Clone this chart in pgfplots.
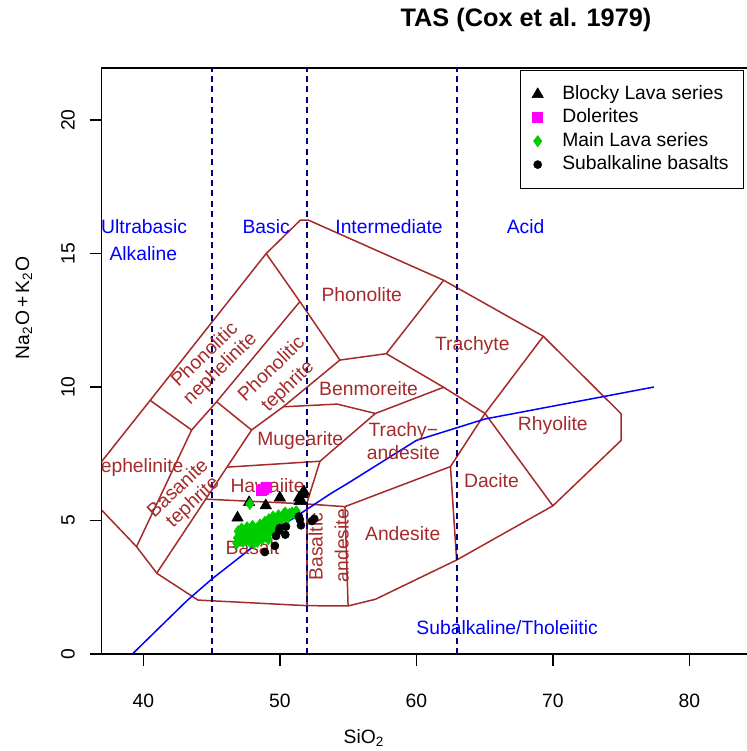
\documentclass[border=0pt]{standalone}
\usepackage{pgfplots}
\pgfplotsset{compat=1.18}
\usepackage{fontspec}
\usepackage{graphicx}
\setmainfont{Liberation Sans}
\definecolor{fieldbrown}{HTML}{A52A2A}
\definecolor{divnavy}{HTML}{000080}
\definecolor{lavagreen}{HTML}{00CD00}
\definecolor{doleritemag}{HTML}{FF00FF}
\newcommand{\lbl}{\fontsize{9.65pt}{11.6pt}\selectfont}
\begin{document}
\begin{tikzpicture}[x=1pt,y=1pt]
\useasboundingbox (-50.85,-48.5) rectangle (322.65,327);
\begin{axis}[
  at={(0pt,0pt)}, anchor=south west, scale only axis,
  width=327.95pt, height=293pt,
  xmin=36.95, xmax=85, ymin=0, ymax=21.95,
  xtick={40,50,60,70,80}, ytick={0,5,10,15,20},
  tick pos=left, tick align=outside, major tick length=6pt,
  tick style={black, line width=0.7pt},
  axis line style={black, line width=0.8pt},
  /pgf/number format/assume math mode=true,
  tick label style={font=\lbl},
  xticklabel style={anchor=north, inner sep=0pt},
  yticklabel={\rotatebox{90}{\pgfmathprintnumber{\tick}}},
  yticklabel style={anchor=east, inner sep=0pt},
  xticklabel shift=14pt,
  yticklabel shift=7.3pt,
  legend style={at={(0.9793,0.9966)}, anchor=north east, draw=black, line width=0.6pt,
    fill=white, font=\lbl, inner xsep=2.5pt, inner ysep=7.4pt, row sep=2.7pt, column sep=6pt,
    nodes={inner sep=0pt, text height=7pt, text depth=2pt, anchor=west}},
  legend cell align=left,
  legend image code/.code={\path (0pt,0pt) (12pt,0pt); \draw[#1] plot coordinates {(6pt,0pt)};},
]
% field boundaries (Cox et al. 1979)
\pgfplotsset{every axis plot/.append style={line join=round}}
\addplot[fieldbrown, line width=0.75pt, forget plot] coordinates {
  (36,6.6) (40.5,9.5) (49,15) (51.5,16.25) (52.1,16.25) (62,14.0) (69.3,11.9)
  (75,9.0) (75,8.0) (70,5.55) (62.95,3.52) (57,2.05) (55,1.8) (52,1.81)
  (44,2.02) (41,3.02) (39.5,4.02) (36,5.9)};
\addplot[fieldbrown, line width=0.75pt, forget plot] coordinates {(49,15) (51.47,13.2) (54.4,11.01) (57.8,11.25) (62,14.0)};
\addplot[fieldbrown, line width=0.75pt, forget plot] coordinates {(57.8,11.25) (62,9.99) (65.03,9.01)};
\addplot[fieldbrown, line width=0.75pt, forget plot] coordinates {(50.25,9.26) (54.2,9.36) (57,9.01) (62,9.99)};
\addplot[fieldbrown, line width=0.75pt, forget plot] coordinates {(54.4,11.01) (50.25,9.26) (47.93,8.39) (40.97,3.02)};
\addplot[fieldbrown, line width=0.75pt, forget plot] coordinates {(51.47,13.2) (45.37,9.45) (43.54,8.39) (39.5,4.02)};
\addplot[fieldbrown, line width=0.75pt, forget plot] coordinates {(40.5,9.5) (43.54,8.39)};
\addplot[fieldbrown, line width=0.75pt, forget plot] coordinates {(45.37,9.45) (47.93,8.39)};
\addplot[fieldbrown, line width=0.75pt, forget plot] coordinates {(46.15,7.0) (52.94,7.22) (57,9.01)};
\addplot[fieldbrown, line width=0.75pt, forget plot] coordinates {(52.94,7.22) (51.96,5.62)};
\addplot[fieldbrown, line width=0.75pt, forget plot] coordinates {(44.6,5.8) (51.96,5.62) (54.77,5.52) (62.5,7.02) (65.03,9.01) (69.3,11.9)};
\addplot[fieldbrown, line width=0.75pt, forget plot] coordinates {(62.5,7.02) (62.95,3.52)};
\addplot[fieldbrown, line width=0.75pt, forget plot] coordinates {(65.03,9.01) (70,5.55)};
\addplot[fieldbrown, line width=0.75pt, forget plot] coordinates {(54.77,5.52) (55,1.8)};
\addplot[fieldbrown, line width=0.75pt, forget plot] coordinates {(52,5.62) (52,1.81)};
% silica divisions
\addplot[divnavy, line width=1pt, dash pattern=on 3pt off 2.2pt, forget plot] coordinates {(45,0) (45,21.95)};
\addplot[divnavy, line width=1pt, dash pattern=on 3pt off 2.2pt, forget plot] coordinates {(52,0) (52,21.95)};
\addplot[divnavy, line width=1pt, dash pattern=on 3pt off 2.2pt, forget plot] coordinates {(63,0) (63,21.95)};
% alkaline / subalkaline divide
\addplot[blue, line width=0.75pt, forget plot] coordinates {
  (39.2,0) (40,0.4) (43.2,2) (45,2.8) (48,4) (50,4.75) (53.7,6) (55,6.4) (60,8) (65,8.8) (77.4,10)};
% field names
\begin{scope}[every node/.style={font=\lbl, text=fieldbrown, inner sep=0pt}]
\node at (axis cs:56,13.45) {Phonolite};
\node at (axis cs:64.1,11.55) {Trachyte};
\node at (axis cs:56.5,9.95) {Benmoreite};
\node[align=center] at (axis cs:59.05,7.98) {Trachy−\\andesite};
\node at (axis cs:70,8.55) {Rhyolite};
\node at (axis cs:65.5,6.5) {Dacite};
\node at (axis cs:59,4.5) {Andesite};
\node[rotate=90] at (axis cs:52.63,4.02) {Basaltic};
\node[rotate=90] at (axis cs:54.53,4.06) {andesite};
\node at (axis cs:49.1,6.3) {Hawaiite};
\node at (axis cs:48,4.0) {Basalt};
\node at (axis cs:51.5,8.0) {Mugearite};
\node at (axis cs:39.4,7.0) {Nephelinite};
\node[rotate=43] at (axis cs:42.48,6.24) {Basanite};
\node[rotate=43] at (axis cs:43.66,5.67) {tephrite};
\node[rotate=44] at (axis cs:44.44,11.24) {Phonolitic};
\node[rotate=44] at (axis cs:45.66,10.67) {nephelinite};
\node[rotate=44] at (axis cs:49.33,10.7) {Phonolitic};
\node[rotate=44] at (axis cs:50.62,10.01) {tephrite};
\end{scope}
\begin{scope}[every node/.style={font=\lbl, text=blue, inner sep=0pt}]
\node at (axis cs:40.06,16.0) {Ultrabasic};
\node at (axis cs:40,15.0) {Alkaline};
\node at (axis cs:49,16) {Basic};
\node at (axis cs:58,16) {Intermediate};
\node at (axis cs:68,16) {Acid};
\node at (axis cs:66.65,1.0) {Subalkaline/Tholeiitic};
\end{scope}
% samples
\addplot[only marks, mark=triangle*, mark size=3.3pt, mark options={black, fill=black, line width=0.3pt}] coordinates {
  (46.9,5.1) (47.75,5.68) (48.97,5.56) (50.0,5.85) (51.45,5.72) (51.6,5.97) (51.77,6.08) (51.42,5.85) (51.55,5.75)};
\addlegendentry{Blocky Lava series}
\addplot[only marks, mark=square*, mark size=2.5pt, mark options={doleritemag, fill=doleritemag, line width=0.3pt}] coordinates {
  (48.65,6.12) (49.0,6.25) (48.8,6.18)};
\addlegendentry{Dolerites}
\addplot[only marks, mark=diamond*, mark size=2.8pt, mark options={lavagreen, fill=lavagreen, line width=0.3pt}] coordinates {
  (46.85,4.15) (46.9,4.35) (46.95,4.6) (47.05,4.25) (47.15,4.45) (47.2,4.7) (47.3,4.2) (47.4,4.4)
  (47.45,4.6) (47.55,4.3) (47.6,4.75) (47.7,4.45) (47.8,4.2) (47.85,4.6) (47.95,4.4) (48.0,4.8)
  (48.1,4.15) (48.15,4.55) (48.2,4.35) (48.3,4.7) (48.35,4.2) (48.4,4.5) (48.5,4.35) (48.55,4.85)
  (48.6,4.6) (48.7,4.3) (48.75,4.75) (48.8,4.5) (48.9,4.95) (48.95,4.4) (49.0,4.65) (49.1,4.85)
  (49.15,4.3) (49.2,5.05) (49.25,4.55) (49.35,4.75) (49.4,4.95) (49.5,5.15) (49.55,4.6) (49.6,4.85)
  (49.7,5.05) (49.8,4.75) (49.9,5.2) (50.0,4.95) (50.1,5.1) (50.25,5.15) (50.4,5.3) (50.5,5.05)
  (50.7,5.25) (50.9,5.3) (51.1,5.25) (51.2,5.35) (47.8,5.62) (50.3,5.25) (49.45,5.0) (48.25,4.45)};
\addlegendentry{Main Lava series}
\addplot[only marks, mark=*, mark size=2pt, mark options={black, fill=black, line width=0.3pt}] coordinates {
  (48.9,3.82) (49.64,4.05) (49.72,4.42) (49.95,4.62) (50.0,4.72) (50.4,4.47) (50.45,4.77)
  (51.47,5.03) (51.55,4.82) (52.35,4.98) (52.52,5.06) (51.4,5.15)};
\addlegendentry{Subalkaline basalts\hspace*{4.9pt}}
\end{axis}
\node[font=\fontsize{12.65pt}{14pt}\selectfont\bfseries] at (212.15,317) {TAS (Cox et al. 1979)};
\node[font=\lbl] at (131.15,-42) {SiO\textsubscript{2}};
\node[font=\lbl, rotate=90] at (-38.85,173) {Na\textsubscript{2}O\,+\,K\textsubscript{2}O};
\end{tikzpicture}
\end{document}
